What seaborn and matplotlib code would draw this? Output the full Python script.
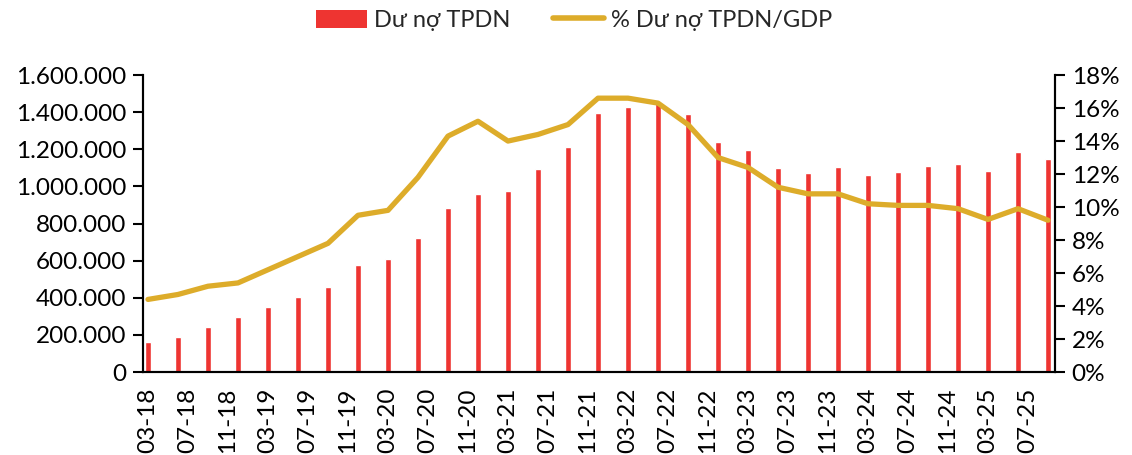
import numpy as np
import pandas as pd
import matplotlib
matplotlib.use("Agg")
import matplotlib.pyplot as plt
import seaborn as sns
from matplotlib.ticker import FuncFormatter, FixedLocator
from matplotlib.patches import Patch
from matplotlib.lines import Line2D

# ===================== DADOS ==========================
# quý 03-18 .. 09-25, vị trí tính theo tháng kể từ 03-18
thang = list(range(0, 91, 3))
du_no = [160000, 190000, 244000, 298000, 348000, 402000, 458000, 576000, 607000,
         720000, 885000, 957000, 977000, 1095000, 1212000, 1395000, 1427000, 1447000,
         1390000, 1239000, 1196000, 1097000, 1070000, 1103000, 1061000, 1076000,
         1111000, 1120000, 1081000, 1187000, 1146000]
ty_le_gdp = [4.4, 4.7, 5.2, 5.4, 6.2, 7.0, 7.8, 9.5, 9.8, 11.8, 14.3, 15.2, 14.0,
             14.4, 15.0, 16.6, 16.6, 16.3, 15.0, 13.0, 12.4, 11.2, 10.8, 10.8, 10.2,
             10.1, 10.1, 9.9, 9.25, 9.9, 9.2]
nhan_truc_x = ["03-18", "07-18", "11-18", "03-19", "07-19", "11-19", "03-20", "07-20",
               "11-20", "03-21", "07-21", "11-21", "03-22", "07-22", "11-22", "03-23",
               "07-23", "11-23", "03-24", "07-24", "11-24", "03-25", "07-25"]
vi_tri_nhan = list(range(0, 89, 4))

df = pd.DataFrame({"thang": thang, "du_no": du_no, "ty_le": ty_le_gdp})

RED = "#EE3431"
GOLD = "#DDAC2A"

sns.set_style("white")
plt.rcParams["font.family"] = ["Lato", "DejaVu Sans"]

fig = plt.figure(figsize=(11.32, 4.55), dpi=100)
ax = fig.add_axes([0.1263, 0.1824, 0.8057, 0.6526])

sns.barplot(data=df, x="thang", y="du_no", native_scale=True, color=RED,
            width=0.23, saturation=1, ax=ax)
ax.set_xlim(-0.5, 90.7)
ax.set_ylim(0, 1600000)
ax.yaxis.set_major_locator(FixedLocator(np.arange(0, 1600001, 200000)))
ax.yaxis.set_major_formatter(FuncFormatter(lambda v, p: f"{v:,.0f}".replace(",", ".")))
ax.set_xticks(vi_tri_nhan)
ax.set_xticklabels(nhan_truc_x, rotation=90)
ax.set_xlabel("")
ax.set_ylabel("")

ax2 = ax.twinx()
sns.lineplot(data=df, x="thang", y="ty_le", color=GOLD, linewidth=3.8, ax=ax2,
             solid_capstyle="round", solid_joinstyle="round")
ax2.set_ylim(0, 18)
ax2.set_yticks(np.arange(0, 19, 2))
ax2.yaxis.set_major_formatter(FuncFormatter(lambda v, p: f"{v:.0f}%"))
ax2.set_ylabel("")
ax2.set_xlim(-0.5, 90.7)

for a in (ax, ax2):
    a.spines["top"].set_visible(False)
    for s in ("left", "right", "bottom"):
        a.spines[s].set_color("black")
        a.spines[s].set_linewidth(1.5)
    a.tick_params(axis="both", labelsize=17.5, colors="black", length=7, width=1.5,
                  direction="out")
ax.tick_params(axis="x", pad=4)
ax.tick_params(axis="y", left=True, pad=5)
ax2.tick_params(axis="y", right=True, pad=5)

handles = [Patch(facecolor=RED, edgecolor="none"),
           Line2D([0], [0], color=GOLD, linewidth=4, solid_capstyle="round")]
fig.legend(handles, ["Dư nợ TPDN", "% Dư nợ TPDN/GDP"], loc="center",
           bbox_to_anchor=(0.507, 0.955), ncol=2, frameon=False, fontsize=17,
           handlelength=2.15, handleheight=0.8, columnspacing=1.8, handletextpad=0.3)

fig.savefig("out.png", dpi=100)
